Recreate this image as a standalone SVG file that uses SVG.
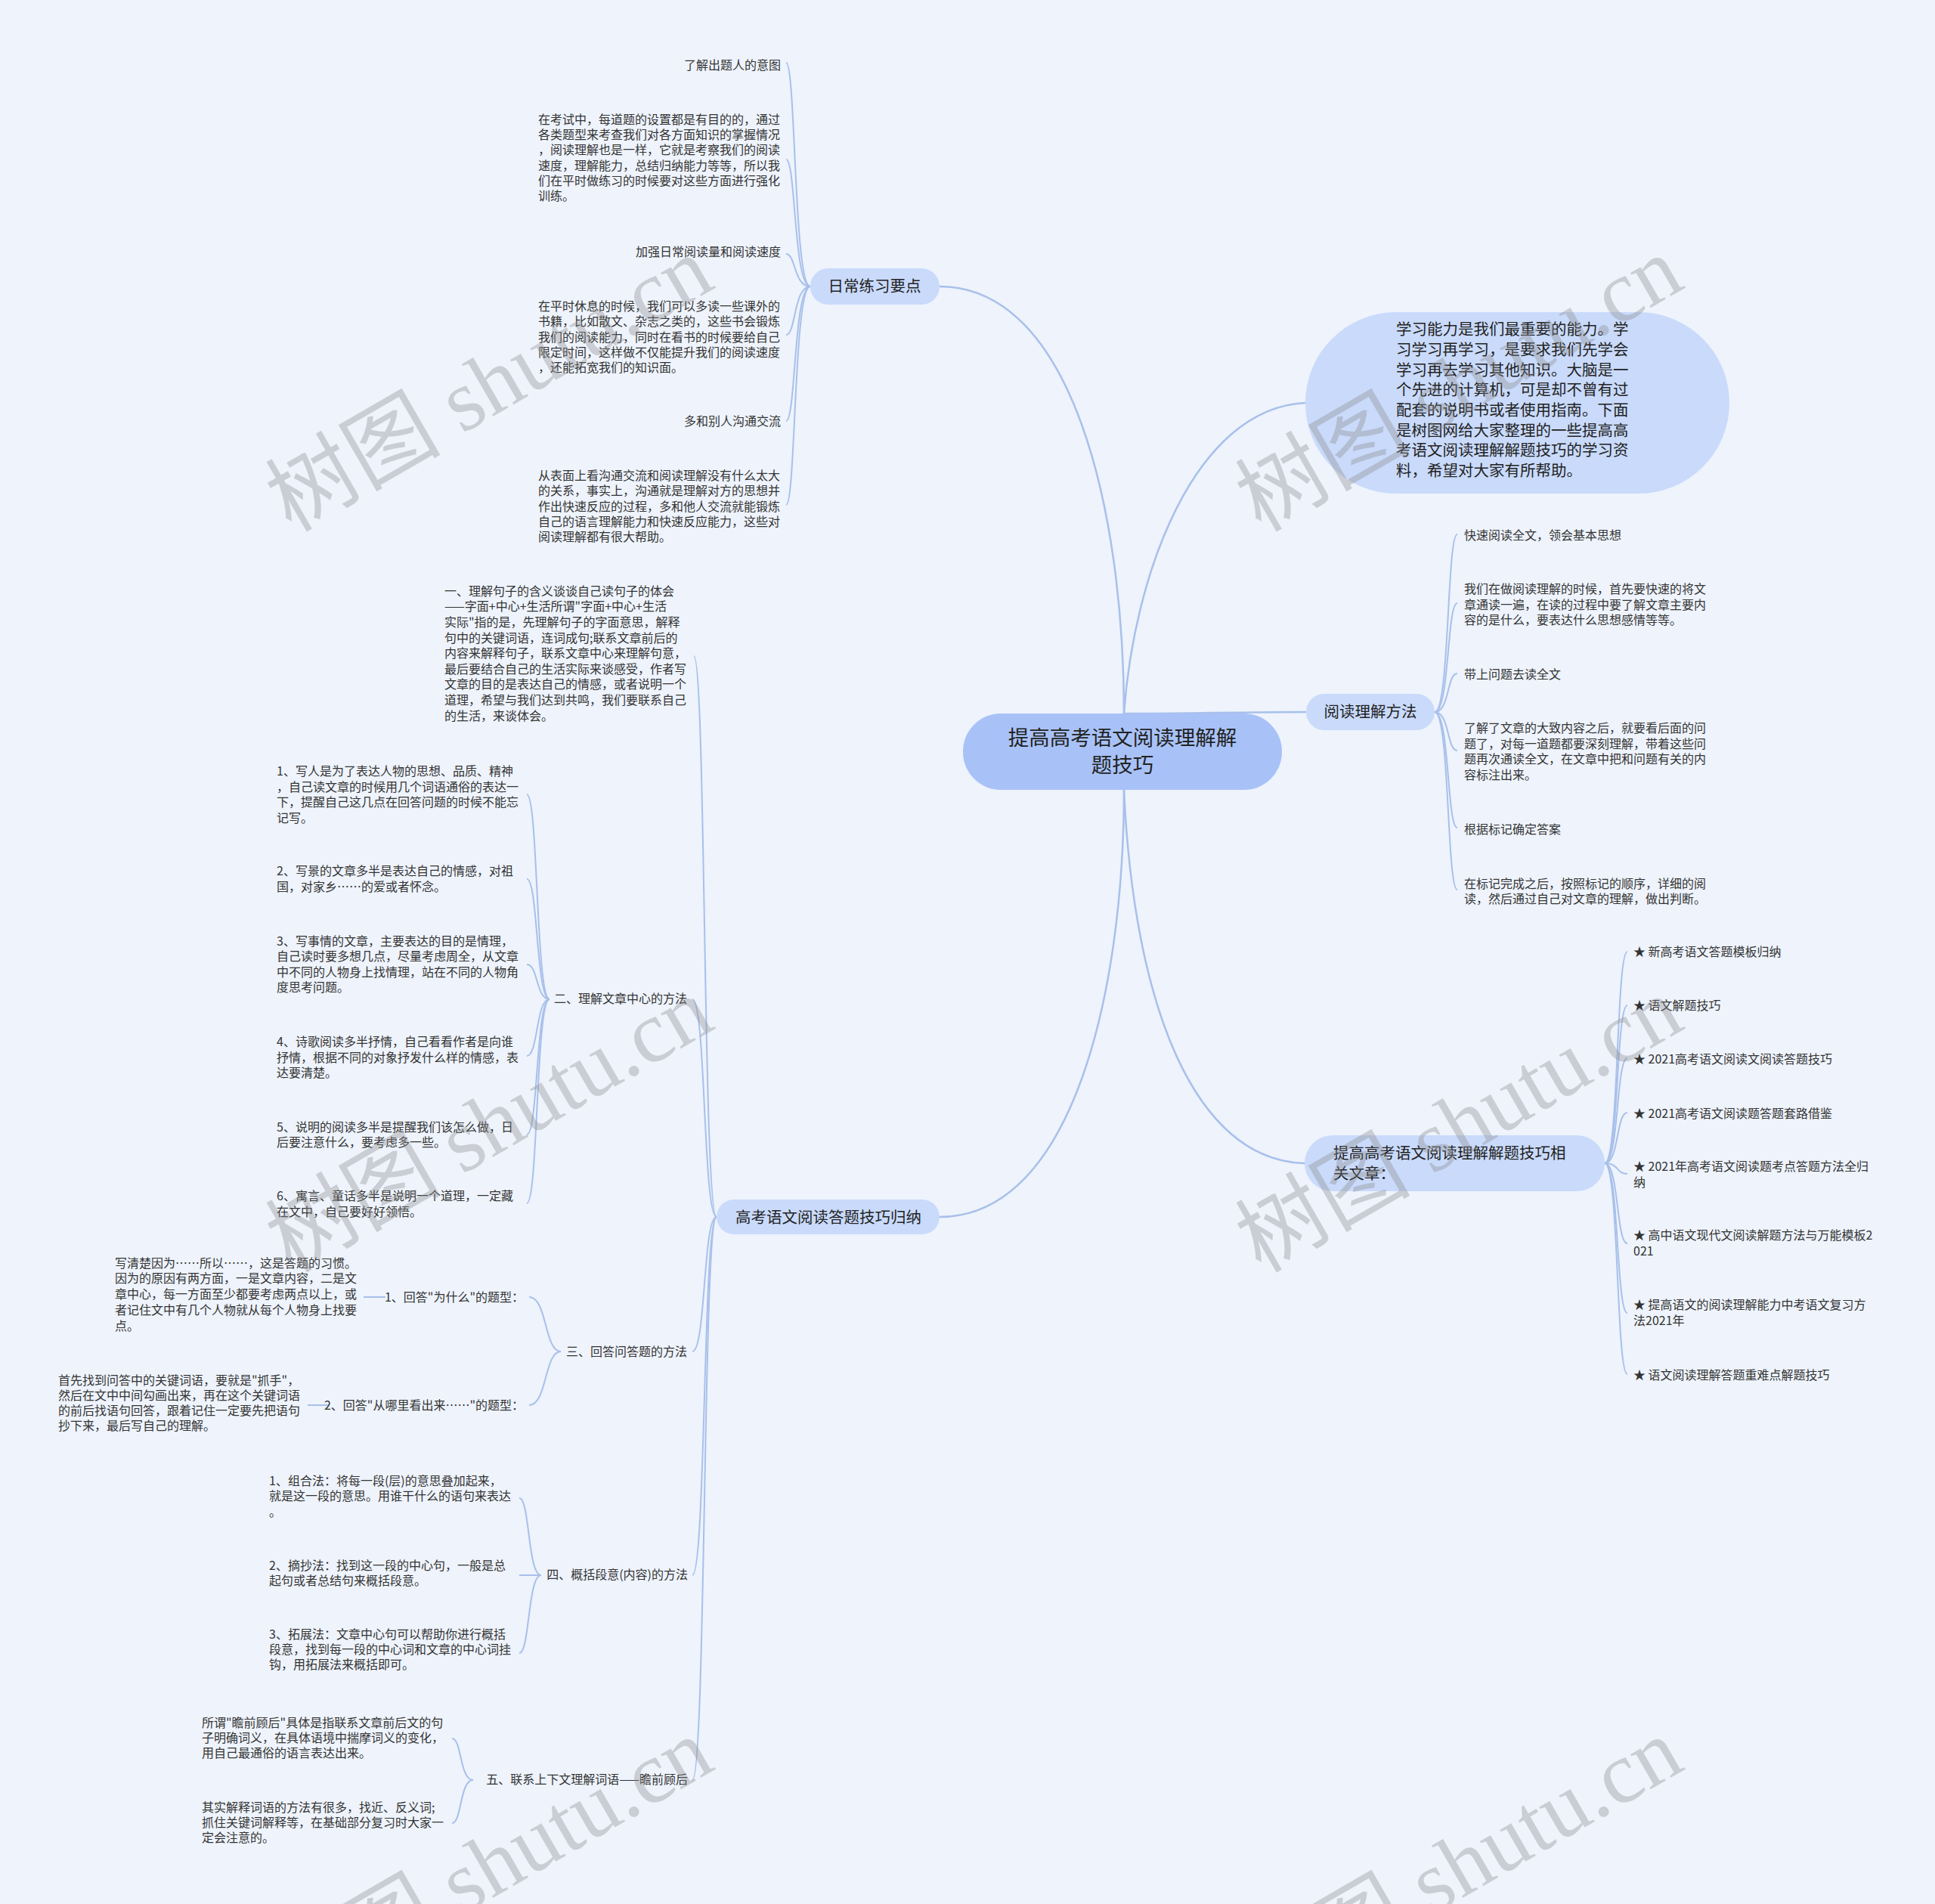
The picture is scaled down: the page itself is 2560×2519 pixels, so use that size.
<svg xmlns="http://www.w3.org/2000/svg" width="2560" height="2519" viewBox="0 0 2560 2519">
<style>
.bg{fill:#eef3fc}
.ln{fill:none;stroke:#a8c0ea;stroke-width:2}
.main{fill:none;stroke:#a8c0ea;stroke-width:2.5}
.t{font-family:"Noto Sans CJK SC","Noto Sans",sans-serif;font-size:16px;fill:#333}
.t2{font-family:"Noto Sans CJK SC","Noto Sans",sans-serif;font-size:20.5px;fill:#222}
.tr{font-family:"Noto Sans CJK SC","Noto Sans",sans-serif;font-size:27.5px;fill:#222}
.n2{fill:#c9dafb}
.n1{fill:#a8c2f8}
.wm{font-family:"Liberation Serif","Noto Sans CJK SC",serif;font-size:116px;fill:#8a8a8a;fill-opacity:0.36}
</style>
<rect class="bg" x="0" y="0" width="2560" height="2519"/>

<g id="connectors">
<path class="main" d="M1487,944 C1487,680 1420,379 1243,379"/>
<path class="main" d="M1487,944 C1500,760 1580,540 1727,533"/>
<path class="main" d="M1487,944 C1600,944 1650,942 1728,942"/>
<path class="main" d="M1487,1045 C1487,1309 1420,1610 1243,1610"/>
<path class="main" d="M1487,1045 C1500,1330 1580,1535 1726,1539"/>

<path class="ln" d="M1072,379 C1050,379 1053,83 1040,83"/>
<path class="ln" d="M1072,379 C1050,379 1053,211 1040,211"/>
<path class="ln" d="M1072,379 C1050,379 1053,336 1040,336"/>
<path class="ln" d="M1072,379 C1050,379 1053,443 1040,443"/>
<path class="ln" d="M1072,379 C1050,379 1053,557 1040,557"/>
<path class="ln" d="M1072,379 C1050,379 1053,668 1040,668"/>

<path class="ln" d="M1898,942 C1918,942 1914,707 1928,707"/>
<path class="ln" d="M1898,942 C1918,942 1914,798 1928,798"/>
<path class="ln" d="M1898,942 C1918,942 1914,891 1928,891"/>
<path class="ln" d="M1898,942 C1918,942 1914,993 1928,993"/>
<path class="ln" d="M1898,942 C1918,942 1914,1095 1928,1095"/>
<path class="ln" d="M1898,942 C1918,942 1914,1177 1928,1177"/>

<path class="ln" d="M2123,1539 C2142,1539 2138,1259 2153,1259"/>
<path class="ln" d="M2123,1539 C2142,1539 2138,1330 2153,1330"/>
<path class="ln" d="M2123,1539 C2142,1539 2138,1400 2153,1400"/>
<path class="ln" d="M2123,1539 C2142,1539 2138,1472 2153,1472"/>
<path class="ln" d="M2123,1539 C2142,1539 2138,1553 2153,1553"/>
<path class="ln" d="M2123,1539 C2142,1539 2138,1645 2153,1645"/>
<path class="ln" d="M2123,1539 C2142,1539 2138,1737 2153,1737"/>
<path class="ln" d="M2123,1539 C2142,1539 2138,1818 2153,1818"/>

<path class="ln" d="M948,1610 C930,1610 934,868 918,868"/>
<path class="ln" d="M948,1610 C930,1610 934,1322 916,1322"/>
<path class="ln" d="M948,1610 C930,1610 934,1788 916,1788"/>
<path class="ln" d="M948,1610 C930,1610 934,2084 916,2084"/>
<path class="ln" d="M948,1610 C930,1610 934,2355 916,2355"/>

<path class="ln" d="M727,1322 C709,1322 712,1051 697,1051"/>
<path class="ln" d="M727,1322 C709,1322 712,1163 697,1163"/>
<path class="ln" d="M727,1322 C709,1322 712,1276 697,1276"/>
<path class="ln" d="M727,1322 C709,1322 712,1397 697,1397"/>
<path class="ln" d="M727,1322 C709,1322 712,1501 697,1501"/>
<path class="ln" d="M727,1322 C709,1322 712,1592 697,1592"/>

<path class="ln" d="M742,1788 C720,1788 724,1716 700,1716"/>
<path class="ln" d="M742,1788 C720,1788 724,1859 700,1859"/>
<path class="ln" d="M481,1716 L510,1716"/>
<path class="ln" d="M407,1859 L435,1859"/>

<path class="ln" d="M716,2084 C698,2084 701,1982 687,1982"/>
<path class="ln" d="M716,2084 C698,2084 701,2084 687,2084"/>
<path class="ln" d="M716,2084 C698,2084 701,2187 687,2187"/>

<path class="ln" d="M626,2355 C608,2355 611,2300 598,2300"/>
<path class="ln" d="M626,2355 C608,2355 611,2412 598,2412"/>
</g>

<g id="root">
<rect class="n1" x="1274" y="944" width="422" height="101" rx="50"/>
<text class="tr" text-anchor="middle"><tspan x="1485" y="986">提高高考语文阅读理解解</tspan><tspan x="1485" y="1022">题技巧</tspan></text>
</g>

<g id="intro">
<rect class="n2" x="1727" y="413" width="561" height="240" rx="120"/>
<text class="t2"><tspan x="1847" y="443">学习能力是我们最重要的能力。学</tspan><tspan x="1847" y="470">习学习再学习，是要求我们先学会</tspan><tspan x="1847" y="497">学习再去学习其他知识。大脑是一</tspan><tspan x="1847" y="523">个先进的计算机，可是却不曾有过</tspan><tspan x="1847" y="550">配套的说明书或者使用指南。下面</tspan><tspan x="1847" y="577">是树图网给大家整理的一些提高高</tspan><tspan x="1847" y="603">考语文阅读理解解题技巧的学习资</tspan><tspan x="1847" y="630">料，希望对大家有所帮助。</tspan></text>
</g>

<g id="daily">
<rect class="n2" x="1072" y="355" width="171" height="48" rx="24"/>
<text class="t2" x="1157" y="386" text-anchor="middle">日常练习要点</text>
</g>
<g id="daily-1"><text class="t" x="1033" y="92" text-anchor="end">了解出题人的意图</text></g>
<g id="daily-2"><text class="t"><tspan x="712" y="164">在考试中，每道题的设置都是有目的的，通过</tspan><tspan x="712" y="184">各类题型来考查我们对各方面知识的掌握情况</tspan><tspan x="712" y="204">，阅读理解也是一样，它就是考察我们的阅读</tspan><tspan x="712" y="225">速度，理解能力，总结归纳能力等等，所以我</tspan><tspan x="712" y="245">们在平时做练习的时候要对这些方面进行强化</tspan><tspan x="712" y="265">训练。</tspan></text></g>
<g id="daily-3"><text class="t" x="1033" y="339" text-anchor="end">加强日常阅读量和阅读速度</text></g>
<g id="daily-4"><text class="t"><tspan x="712" y="411">在平时休息的时候，我们可以多读一些课外的</tspan><tspan x="712" y="431">书籍，比如散文、杂志之类的，这些书会锻炼</tspan><tspan x="712" y="452">我们的阅读能力，同时在看书的时候要给自己</tspan><tspan x="712" y="472">限定时间，这样做不仅能提升我们的阅读速度</tspan><tspan x="712" y="492">，还能拓宽我们的知识面。</tspan></text></g>
<g id="daily-5"><text class="t" x="1033" y="563" text-anchor="end">多和别人沟通交流</text></g>
<g id="daily-6"><text class="t"><tspan x="712" y="635">从表面上看沟通交流和阅读理解没有什么太大</tspan><tspan x="712" y="655">的关系，事实上，沟通就是理解对方的思想并</tspan><tspan x="712" y="676">作出快速反应的过程，多和他人交流就能锻炼</tspan><tspan x="712" y="696">自己的语言理解能力和快速反应能力，这些对</tspan><tspan x="712" y="716">阅读理解都有很大帮助。</tspan></text></g>

<g id="method">
<rect class="n2" x="1728" y="918" width="170" height="48" rx="24"/>
<text class="t2" x="1813" y="949" text-anchor="middle">阅读理解方法</text>
</g>
<g id="method-1"><text class="t" x="1937" y="714">快速阅读全文，领会基本思想</text></g>
<g id="method-2"><text class="t"><tspan x="1937" y="785">我们在做阅读理解的时候，首先要快速的将文</tspan><tspan x="1937" y="806">章通读一遍，在读的过程中要了解文章主要内</tspan><tspan x="1937" y="826">容的是什么，要表达什么思想感情等等。</tspan></text></g>
<g id="method-3"><text class="t" x="1937" y="898">带上问题去读全文</text></g>
<g id="method-4"><text class="t"><tspan x="1937" y="969">了解了文章的大致内容之后，就要看后面的问</tspan><tspan x="1937" y="990">题了，对每一道题都要深刻理解，带着这些问</tspan><tspan x="1937" y="1010">题再次通读全文，在文章中把和问题有关的内</tspan><tspan x="1937" y="1031">容标注出来。</tspan></text></g>
<g id="method-5"><text class="t" x="1937" y="1103">根据标记确定答案</text></g>
<g id="method-6"><text class="t"><tspan x="1937" y="1175">在标记完成之后，按照标记的顺序，详细的阅</tspan><tspan x="1937" y="1195">读，然后通过自己对文章的理解，做出判断。</tspan></text></g>

<g id="related">
<rect class="n2" x="1726" y="1502" width="397" height="74" rx="37"/>
<text class="t2"><tspan x="1764" y="1533">提高高考语文阅读理解解题技巧相</tspan><tspan x="1764" y="1560">关文章：</tspan></text>
</g>
<g id="related-1"><text class="t" x="2161" y="1265">★ 新高考语文答题模板归纳</text></g>
<g id="related-2"><text class="t" x="2161" y="1336">★ 语文解题技巧</text></g>
<g id="related-3"><text class="t" x="2161" y="1407">★ 2021高考语文阅读文阅读答题技巧</text></g>
<g id="related-4"><text class="t" x="2161" y="1479">★ 2021高考语文阅读题答题套路借鉴</text></g>
<g id="related-5"><text class="t"><tspan x="2161" y="1549">★ 2021年高考语文阅读题考点答题方法全归</tspan><tspan x="2161" y="1570">纳</tspan></text></g>
<g id="related-6"><text class="t"><tspan x="2161" y="1640">★ 高中语文现代文阅读解题方法与万能模板2</tspan><tspan x="2161" y="1661">021</tspan></text></g>
<g id="related-7"><text class="t"><tspan x="2161" y="1732">★ 提高语文的阅读理解能力中考语文复习方</tspan><tspan x="2161" y="1753">法2021年</tspan></text></g>
<g id="related-8"><text class="t" x="2161" y="1825">★ 语文阅读理解答题重难点解题技巧</text></g>

<g id="skills">
<rect class="n2" x="948" y="1587" width="295" height="46" rx="23"/>
<text class="t2" x="1096" y="1618" text-anchor="middle">高考语文阅读答题技巧归纳</text>
</g>
<g id="s1"><text class="t"><tspan x="588" y="788">一、理解句子的含义谈谈自己读句子的体会</tspan><tspan x="588" y="808">——字面+中心+生活所谓"字面+中心+生活</tspan><tspan x="588" y="829">实际"指的是，先理解句子的字面意思，解释</tspan><tspan x="588" y="850">句中的关键词语，连词成句;联系文章前后的</tspan><tspan x="588" y="870">内容来解释句子，联系文章中心来理解句意，</tspan><tspan x="588" y="891">最后要结合自己的生活实际来谈感受，作者写</tspan><tspan x="588" y="911">文章的目的是表达自己的情感，或者说明一个</tspan><tspan x="588" y="932">道理，希望与我们达到共鸣，我们要联系自己</tspan><tspan x="588" y="953">的生活，来谈体会。</tspan></text></g>

<g id="s2"><text class="t" x="909" y="1327" text-anchor="end">二、理解文章中心的方法</text></g>
<g id="s2-1"><text class="t"><tspan x="366" y="1026">1、写人是为了表达人物的思想、品质、精神</tspan><tspan x="366" y="1047">，自己读文章的时候用几个词语通俗的表达一</tspan><tspan x="366" y="1067">下，提醒自己这几点在回答问题的时候不能忘</tspan><tspan x="366" y="1088">记写。</tspan></text></g>
<g id="s2-2"><text class="t"><tspan x="366" y="1158">2、写景的文章多半是表达自己的情感，对祖</tspan><tspan x="366" y="1179">国，对家乡……的爱或者怀念。</tspan></text></g>
<g id="s2-3"><text class="t"><tspan x="366" y="1251">3、写事情的文章，主要表达的目的是情理，</tspan><tspan x="366" y="1271">自己读时要多想几点，尽量考虑周全，从文章</tspan><tspan x="366" y="1292">中不同的人物身上找情理，站在不同的人物角</tspan><tspan x="366" y="1312">度思考问题。</tspan></text></g>
<g id="s2-4"><text class="t"><tspan x="366" y="1384">4、诗歌阅读多半抒情，自己看看作者是向谁</tspan><tspan x="366" y="1405">抒情，根据不同的对象抒发什么样的情感，表</tspan><tspan x="366" y="1425">达要清楚。</tspan></text></g>
<g id="s2-5"><text class="t"><tspan x="366" y="1497">5、说明的阅读多半是提醒我们该怎么做，日</tspan><tspan x="366" y="1517">后要注意什么，要考虑多一些。</tspan></text></g>
<g id="s2-6"><text class="t"><tspan x="366" y="1588">6、寓言、童话多半是说明一个道理，一定藏</tspan><tspan x="366" y="1609">在文中，自己要好好领悟。</tspan></text></g>

<g id="s3"><text class="t" x="909" y="1794" text-anchor="end">三、回答问答题的方法</text></g>
<g id="s3-1"><text class="t" x="693" y="1722" text-anchor="end">1、回答"为什么"的题型：</text></g>
<g id="s3-1-1"><text class="t"><tspan x="152" y="1677">写清楚因为……所以……，这是答题的习惯。</tspan><tspan x="152" y="1697">因为的原因有两方面，一是文章内容，二是文</tspan><tspan x="152" y="1718">章中心，每一方面至少都要考虑两点以上，或</tspan><tspan x="152" y="1739">者记住文中有几个人物就从每个人物身上找要</tspan><tspan x="152" y="1760">点。</tspan></text></g>
<g id="s3-2"><text class="t" x="693" y="1865" text-anchor="end">2、回答"从哪里看出来……"的题型：</text></g>
<g id="s3-2-1"><text class="t"><tspan x="77" y="1832">首先找到问答中的关键词语，要就是"抓手"，</tspan><tspan x="77" y="1852">然后在文中中间勾画出来，再在这个关键词语</tspan><tspan x="77" y="1872">的前后找语句回答，跟着记住一定要先把语句</tspan><tspan x="77" y="1892">抄下来，最后写自己的理解。</tspan></text></g>

<g id="s4"><text class="t" x="910" y="2089" text-anchor="end">四、概括段意(内容)的方法</text></g>
<g id="s4-1"><text class="t"><tspan x="356" y="1965">1、组合法：将每一段(层)的意思叠加起来，</tspan><tspan x="356" y="1985">就是这一段的意思。用谁干什么的语句来表达</tspan><tspan x="356" y="2006">。</tspan></text></g>
<g id="s4-2"><text class="t"><tspan x="356" y="2077">2、摘抄法：找到这一段的中心句，一般是总</tspan><tspan x="356" y="2097">起句或者总结句来概括段意。</tspan></text></g>
<g id="s4-3"><text class="t"><tspan x="356" y="2168">3、拓展法：文章中心句可以帮助你进行概括</tspan><tspan x="356" y="2188">段意，找到每一段的中心词和文章的中心词挂</tspan><tspan x="356" y="2208">钩，用拓展法来概括即可。</tspan></text></g>

<g id="s5"><text class="t" x="910" y="2360" text-anchor="end">五、联系上下文理解词语——瞻前顾后</text></g>
<g id="s5-1"><text class="t"><tspan x="267" y="2285">所谓"瞻前顾后"具体是指联系文章前后文的句</tspan><tspan x="267" y="2305">子明确词义，在具体语境中揣摩词义的变化，</tspan><tspan x="267" y="2325">用自己最通俗的语言表达出来。</tspan></text></g>
<g id="s5-2"><text class="t"><tspan x="267" y="2397">其实解释词语的方法有很多，找近、反义词;</tspan><tspan x="267" y="2417">抓住关键词解释等，在基础部分复习时大家一</tspan><tspan x="267" y="2437">定会注意的。</tspan></text></g>

<g id="watermarks">
<text class="wm" transform="translate(385,705) rotate(-30)">树图 shutu.cn</text>
<text class="wm" transform="translate(1668,705) rotate(-30)">树图 shutu.cn</text>
<text class="wm" transform="translate(385,1685) rotate(-30)">树图 shutu.cn</text>
<text class="wm" transform="translate(1668,1685) rotate(-30)">树图 shutu.cn</text>
<text class="wm" transform="translate(385,2665) rotate(-30)">树图 shutu.cn</text>
<text class="wm" transform="translate(1668,2665) rotate(-30)">树图 shutu.cn</text>
</g>
</svg>
